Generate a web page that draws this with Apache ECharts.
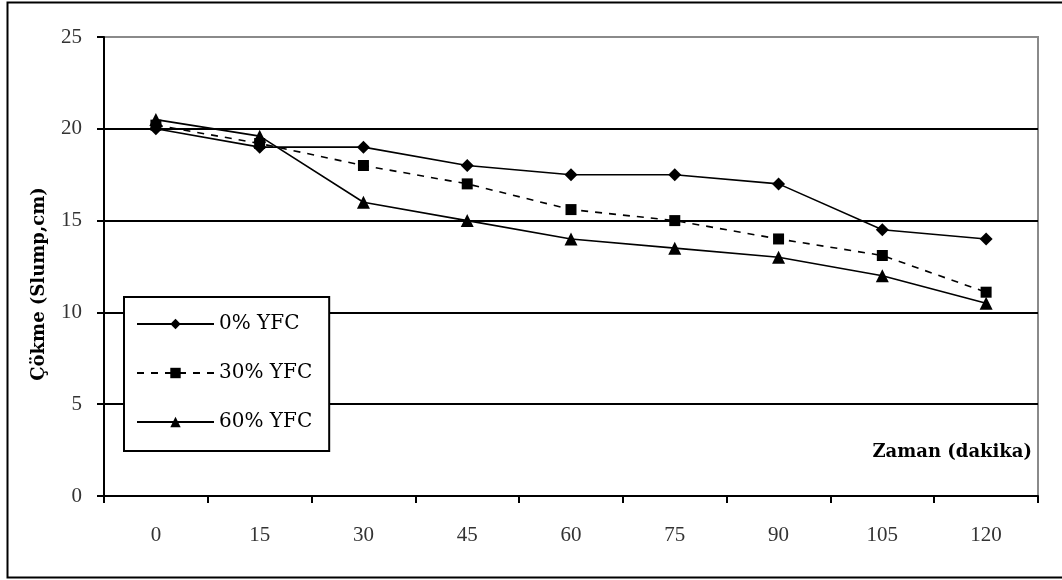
<!DOCTYPE html>
<html><head><meta charset="utf-8">
<script src="https://cdn.jsdelivr.net/npm/echarts@6/dist/echarts.min.js"></script>
<style>html,body{margin:0;padding:0;background:#fff}#c{width:1062px;height:580px}</style>
</head><body><div id="c"></div>
<script>
const categories = ['0','15','30','45','60','75','90','105','120'];
const yfc0  = [20, 19, 19, 18, 17.5, 17.5, 17, 14.5, 14];
const yfc30 = [20.2, 19.2, 18, 17, 15.6, 15, 14, 13.1, 11.1];
const yfc60 = [20.5, 19.6, 16, 15, 14, 13.5, 13, 12, 10.5];
const seriesNames = ['0% YFC', '30% YFC', '60% YFC'];
const yTicks = {min: 0, max: 25, interval: 5};
const yAxisTitle = 'Çökme (Slump,cm)';
const xAxisTitle = 'Zaman (dakika)';

const serif = '"Liberation Serif", "DejaVu Serif", serif';
const wide = '"DejaVu Serif", serif';
const chart = echarts.init(document.getElementById('c'));
chart.setOption({
  backgroundColor: '#fff',
  animation: false,
  grid: {left: 104, right: 24, top: 37, bottom: 84, show: true, borderColor: '#8a8a8a', borderWidth: 2, backgroundColor: 'transparent'},
  xAxis: {
    type: 'category', data: categories, boundaryGap: true,
    axisLine: {lineStyle: {color: '#000', width: 2}},
    axisTick: {show: true, interval: 0, length: 7, lineStyle: {color: '#000', width: 2}},
    axisLabel: {color: '#333', fontFamily: serif, fontSize: 21, margin: 29}
  },
  yAxis: {
    type: 'value', min: yTicks.min, max: yTicks.max, interval: yTicks.interval,
    axisLine: {show: true, lineStyle: {color: '#000', width: 2}},
    axisTick: {show: true, length: 7, lineStyle: {color: '#000', width: 2}},
    axisLabel: {color: '#333', fontFamily: serif, fontSize: 21, margin: 22},
    splitLine: {show: true, showMaxLine: false, lineStyle: {color: '#000', width: 2}}
  },
  legend: {
    orient: 'vertical', left: 124, top: 297,
    backgroundColor: '#fff', borderColor: '#000', borderWidth: 2,
    padding: [17, 17, 19, 12], itemGap: 29, itemWidth: 77, itemHeight: 13,
    textStyle: {fontFamily: wide, fontSize: 20, color: '#000'},
    data: seriesNames
  },
  graphic: [
    {type: 'rect', left: 5, top: 0, shape: {width: 1060, height: 575}, style: {fill: 'none', stroke: '#000', lineWidth: 2}, silent: true, z: -10},
    {type: 'text', x: 39, y: 284, rotation: Math.PI / 2,
     style: {text: yAxisTitle, font: 'bold 18px ' + wide, fill: '#000', align: 'center', verticalAlign: 'middle'}},
    {type: 'text', right: 30, top: 443, style: {text: xAxisTitle, font: 'bold 18px ' + wide, fill: '#000'}}
  ],
  series: [
    {name: seriesNames[0], type: 'line', data: yfc0, symbol: 'diamond', symbolSize: 13,
     itemStyle: {color: '#000'}, lineStyle: {color: '#000', width: 1.6, type: 'solid'}},
    {name: seriesNames[1], type: 'line', data: yfc30, symbol: 'rect', symbolSize: 11,
     itemStyle: {color: '#000'}, lineStyle: {color: '#000', width: 1.6, type: [7, 7]}},
    {name: seriesNames[2], type: 'line', data: yfc60, symbol: 'triangle', symbolSize: 13,
     itemStyle: {color: '#000'}, lineStyle: {color: '#000', width: 1.6, type: 'solid'}}
  ]
});
</script></body></html>
